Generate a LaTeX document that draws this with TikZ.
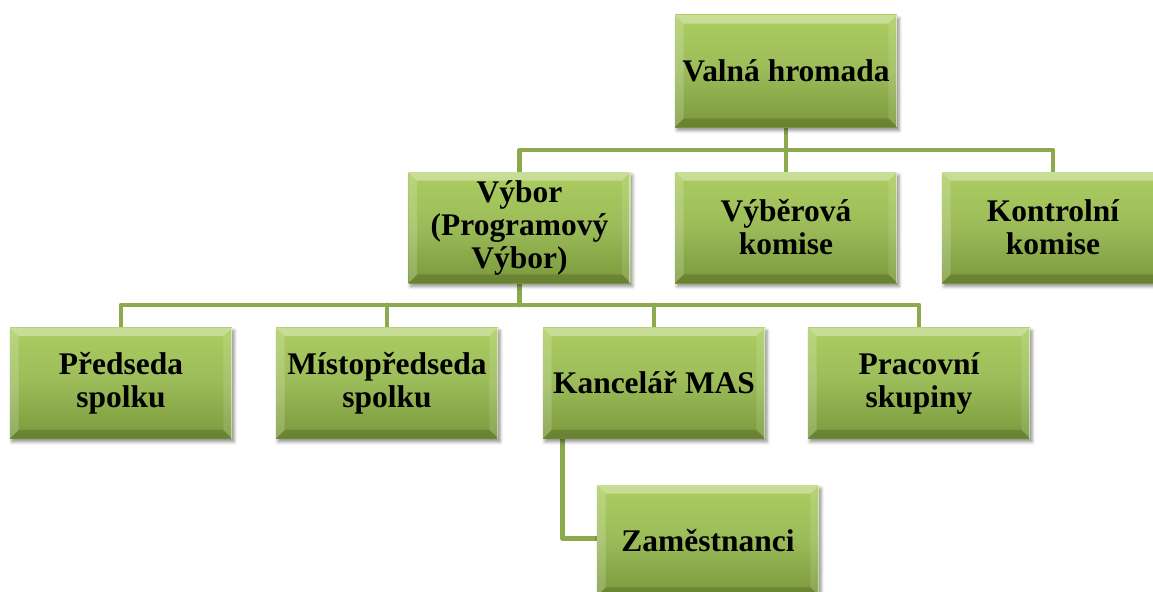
\documentclass[tikz,border=0pt]{standalone}
\usepackage{fontspec}
\setmainfont{Liberation Serif}
\usetikzlibrary{calc,shadows.blur}
\pgfdeclarelayer{background}
\pgfsetlayers{background,main}
\definecolor{gtop}{HTML}{ACCD60}
\definecolor{gmid}{HTML}{9BBB59}
\definecolor{gbot}{HTML}{7A993B}
\definecolor{conn}{HTML}{8DA94E}
\tikzset{
  orgbox/.style={
    rectangle, inner sep=0pt, align=center,
    minimum width=166.5pt, minimum height=83.25pt,
    top color=gtop, bottom color=gbot, middle color=gmid,
    font=\bfseries\fontsize{23.6pt}{24.75pt}\selectfont,
    blur shadow={shadow xshift=1.5pt, shadow yshift=-2.5pt, shadow blur radius=2.5pt, shadow opacity=45},
    path picture={
      \coordinate (bNW) at (path picture bounding box.north west);
      \coordinate (bNE) at (path picture bounding box.north east);
      \coordinate (bSW) at (path picture bounding box.south west);
      \coordinate (bSE) at (path picture bounding box.south east);
      \coordinate (iNW) at ($(bNW)+(6.5pt,-6.5pt)$);
      \coordinate (iNE) at ($(bNE)+(-6.5pt,-6.5pt)$);
      \coordinate (iSW) at ($(bSW)+(6.5pt,6.5pt)$);
      \coordinate (iSE) at ($(bSE)+(-6.5pt,6.5pt)$);
      \fill[white, opacity=0.35] (bNW) -- (bNE) -- (iNE) -- (iNW) -- cycle;
      \fill[white, opacity=0.18] (bNW) -- (iNW) -- (iSW) -- (bSW) -- cycle;
      \fill[white, opacity=0.12] (bNE) -- (bSE) -- (iSE) -- (iNE) -- cycle;
      \fill[black, opacity=0.15] (bSW) -- (iSW) -- (iSE) -- (bSE) -- cycle;
      \draw[white, opacity=0.5, line width=1pt] ($(bNE)+(-0.5pt,0)$) -- ($(bSE)+(-0.5pt,0)$);
    }
  },
  link/.style={draw=conn, line width=3.6pt, line join=round, line cap=round}
}
\begin{document}
\begin{tikzpicture}[x=0.75pt,y=-0.75pt]
\useasboundingbox (0,0) rectangle (1153,592);
\node[orgbox, minimum height=84pt] (vh) at (786,71) {Valná hromada};
\node[orgbox] (vybor) at (519.5,227.5) {Výbor\\(Programový\\Výbor)};
\node[orgbox] (vyber) at (786,227.5) {Výběrová\\komise};
\node[orgbox] (kontrol) at (1053,227.5) {Kontrolní\\komise};
\node[orgbox] (pred) at (121,383) {Předseda\\spolku};
\node[orgbox] (misto) at (387,383) {Místopředseda\\spolku};
\node[orgbox] (kanc) at (654,383) {Kancelář MAS};
\node[orgbox] (prac) at (919,383) {Pracovní\\skupiny};
\node[orgbox] (zam) at (708,540.5) {Zaměstnanci};
\coordinate (bus1) at (786,150);
\coordinate (bus2) at (519.5,305);
\coordinate (kdrop) at ($(kanc.south west)+(15pt,0)$);
\begin{pgfonlayer}{background}
\draw[link] (vh.south) -- (vyber.north);
\draw[link] (vybor.north) |- (bus1) -| (kontrol.north);
\draw[link] (vybor.south) -- (bus2);
\draw[link] (pred.north) |- (bus2) -| (prac.north);
\draw[link] (misto.north) -- (misto.north |- bus2);
\draw[link] (kanc.north) -- (kanc.north |- bus2);
\draw[link] (kdrop) |- ($(zam.west)+(0,1.5pt)$);
\end{pgfonlayer}
\end{tikzpicture}
\end{document}
